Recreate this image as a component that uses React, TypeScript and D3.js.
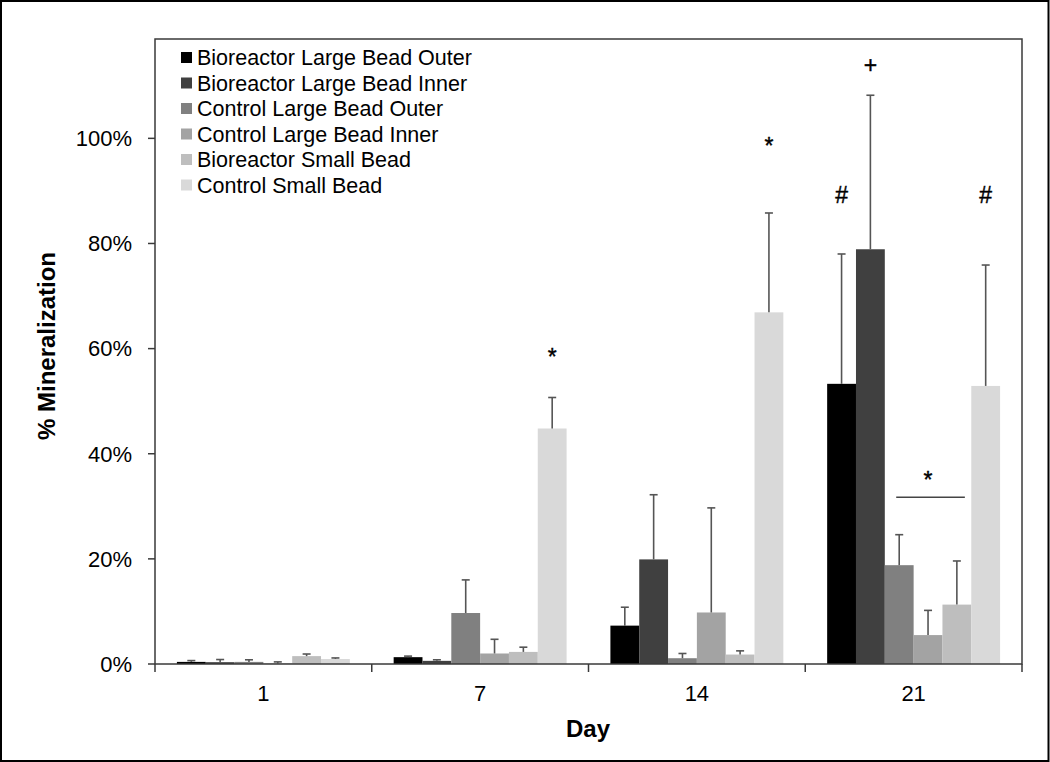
import React from "react";
import * as d3 from "d3";

const days = ["1", "7", "14", "21"];
const seriesNames = [
  "Bioreactor Large Bead Outer",
  "Bioreactor Large Bead Inner",
  "Control Large Bead Outer",
  "Control Large Bead Inner",
  "Bioreactor Small Bead",
  "Control Small Bead",
];
const seriesColors = ["#000000", "#404040", "#808080", "#a3a3a3", "#bebebe", "#d9d9d9"];

// mean % mineralization per day
const bioLargeOuter = [0.4, 1.3, 7.3, 53.3];
const bioLargeInner = [0.35, 0.6, 19.9, 78.9];
const ctrlLargeOuter = [0.4, 9.7, 1.1, 18.8];
const ctrlLargeInner = [0.1, 2.0, 9.8, 5.5];
const bioSmall = [1.5, 2.3, 1.8, 11.3];
const ctrlSmall = [0.95, 44.8, 66.9, 52.9];

// standard deviation (upper error bars)
const bioLargeOuterSd = [0.25, 0.2, 3.5, 24.7];
const bioLargeInnerSd = [0.5, 0.2, 12.3, 29.3];
const ctrlLargeOuterSd = [0.4, 6.3, 0.9, 5.8];
const ctrlLargeInnerSd = [0.3, 2.7, 19.9, 4.7];
const bioSmallSd = [0.4, 0.9, 0.7, 8.3];
const ctrlSmallSd = [0.2, 5.9, 18.9, 23.0];

const yTicks = [0, 20, 40, 60, 80, 100];

// significance markers: text, day, series index, baseline value (%)
const markText = ["*", "*", "#", "+", "#", "*"];
const markDay = ["7", "14", "21", "21", "21", "21"];
const markSeries = [5, 5, 0, 1, 5, 3];
const markLevel = [56.9, 97.1, 87.7, 112.5, 87.7, 33.4];

// bracket line for day 21 (series 2..4) at this level
const bracketDay = "21";
const bracketFrom = 2;
const bracketTo = 4;
const bracketLevel = 31.7;

const means = [bioLargeOuter, bioLargeInner, ctrlLargeOuter, ctrlLargeInner, bioSmall, ctrlSmall];
const sds = [bioLargeOuterSd, bioLargeInnerSd, ctrlLargeOuterSd, ctrlLargeInnerSd, bioSmallSd, ctrlSmallSd];

export default function App() {
  const W = 1050;
  const H = 762;
  const left = 155;
  const right = 1022;
  const top = 39;
  const bottom = 664;

  const x = d3.scaleBand<string>().domain(days).range([left, right]).paddingInner(0).paddingOuter(0);
  const xi = d3
    .scaleBand<number>()
    .domain(d3.range(seriesNames.length))
    .range([0, x.bandwidth()])
    .paddingInner(0)
    .paddingOuter(0.76);
  const y = d3.scaleLinear().domain([0, 118.9]).range([bottom, top]);

  const font = "'Liberation Sans', Arial, sans-serif";
  const bw = xi.bandwidth();
  const errColor = "#555555";

  const boundaries = days.map((d) => x(d)!).concat([right]);

  return (
    <svg
      width={W}
      height={H}
      style={{ position: "absolute", left: 0, top: 0, background: "#fff" }}
      fontFamily={font}
    >
      <rect x={0} y={0} width={W} height={H} fill="#fff" />
      {/* outer frame */}
      <rect x={1} y={1} width={W - 2.5} height={H - 2} fill="none" stroke="#000" strokeWidth={2} />

      {/* bars */}
      {means.map((vals, s) =>
        vals.map((v, i) => {
          const bx = x(days[i])! + xi(s)!;
          return (
            <rect
              key={`b${s}-${i}`}
              x={bx}
              y={y(v)}
              width={bw}
              height={bottom - y(v)}
              fill={seriesColors[s]}
            />
          );
        })
      )}

      {/* error bars */}
      {means.map((vals, s) =>
        vals.map((v, i) => {
          const cx = x(days[i])! + xi(s)! + bw / 2;
          const yt = y(v + sds[s][i]);
          return (
            <g key={`e${s}-${i}`} stroke={errColor} strokeWidth={1.6}>
              <line x1={cx} x2={cx} y1={y(v)} y2={yt} />
              <line x1={cx - 4} x2={cx + 4} y1={yt} y2={yt} />
            </g>
          );
        })
      )}

      {/* plot box */}
      <rect x={left} y={top} width={right - left} height={bottom - top} fill="none" stroke="#3a3a3a" strokeWidth={1.5} />

      {/* y axis ticks and labels */}
      {yTicks.map((t) => (
        <g key={`yt${t}`}>
          <line x1={left - 7} x2={left} y1={y(t)} y2={y(t)} stroke="#3a3a3a" strokeWidth={1.5} />
          <text x={132} y={y(t) + 7.8} textAnchor="end" fontSize={22} fill="#000">
            {`${t}%`}
          </text>
        </g>
      ))}

      {/* x axis ticks */}
      {boundaries.map((b, i) => (
        <line key={`xt${i}`} x1={b} x2={b} y1={bottom} y2={bottom + 8} stroke="#3a3a3a" strokeWidth={1.5} />
      ))}
      {days.map((d) => (
        <text key={`xl${d}`} x={x(d)! + x.bandwidth() / 2} y={701} textAnchor="middle" fontSize={22} fill="#000">
          {d}
        </text>
      ))}

      {/* axis titles */}
      <text x={588} y={737} textAnchor="middle" fontSize={24} fontWeight="bold" fill="#000">
        Day
      </text>
      <text
        transform={`translate(55,346) rotate(-90)`}
        textAnchor="middle"
        fontSize={24}
        fontWeight="bold"
        fill="#000"
      >
        % Mineralization
      </text>

      {/* significance markers */}
      {markText.map((m, k) => (
        <text
          key={`m${k}`}
          x={x(markDay[k])! + xi(markSeries[k])! + bw / 2}
          y={y(markLevel[k])}
          textAnchor="middle"
          fontSize={23}
          fill="#000"
          stroke="#000"
          strokeWidth={0.4}
        >
          {m}
        </text>
      ))}
      <line
        x1={x(bracketDay)! + xi(bracketFrom)! + bw / 2 - 3}
        x2={x(bracketDay)! + xi(bracketTo)! + bw / 2 + 8}
        y1={y(bracketLevel)}
        y2={y(bracketLevel)}
        stroke="#444"
        strokeWidth={1.5}
      />

      {/* legend */}
      {seriesNames.map((n, s) => (
        <g key={`lg${s}`} transform={`translate(0, ${s * 25.5})`}>
          <rect x={181} y={52} width={11} height={11} fill={seriesColors[s]} />
          <text x={197} y={65.3} fontSize={21.5} fill="#000">
            {n}
          </text>
        </g>
      ))}
    </svg>
  );
}
